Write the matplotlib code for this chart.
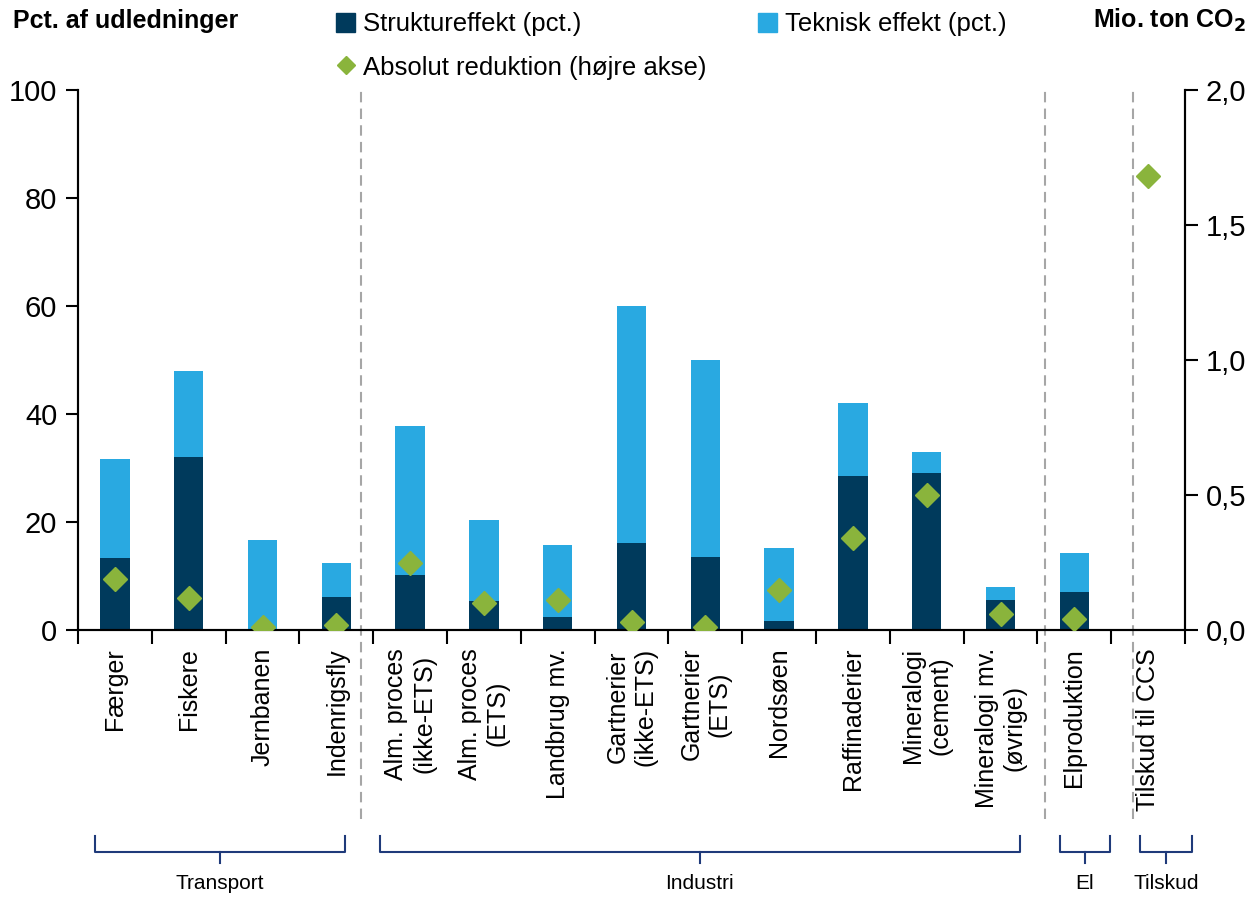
import numpy as np
import matplotlib.pyplot as plt
from matplotlib.lines import Line2D
from matplotlib.patches import Patch
from matplotlib.ticker import FuncFormatter

plt.rcParams['font.family'] = ['Liberation Sans', 'DejaVu Sans']

# Data
categories = ["Færger", "Fiskere", "Jernbanen", "Indenrigsfly",
              "Alm. proces\n(ikke-ETS)", "Alm. proces\n(ETS)", "Landbrug mv.",
              "Gartnerier\n(ikke-ETS)", "Gartnerier\n(ETS)", "Nordsøen",
              "Raffinaderier", "Mineralogi\n(cement)", "Mineralogi mv.\n(øvrige)",
              "Elproduktion", "Tilskud til CCS"]
struktur = [13.3, 32.0, 0.0, 6.1, 10.2, 5.4, 2.5, 16.1, 13.5, 1.6, 28.5, 29.0, 5.5, 7.0, 0.0]
teknisk = [18.4, 16.0, 16.6, 6.3, 27.6, 15.0, 13.2, 43.9, 36.5, 13.6, 13.5, 4.0, 2.5, 7.3, 0.0]
absolut = [0.19, 0.12, 0.01, 0.02, 0.25, 0.10, 0.11, 0.03, 0.01, 0.15, 0.34, 0.50, 0.06, 0.04, 1.68]

groups = ["Transport", "Industri", "El", "Tilskud"]
group_span = [(-0.27, 3.12), (3.59, 12.26), (12.8, 13.48), (13.89, 14.59)]
separators = [3.33, 12.6, 13.8]

navy = "#003A5C"
light = "#29A9E1"
green = "#8AB43C"

fig = plt.figure(figsize=(12.52, 8.99), dpi=100)
ax = fig.add_axes([0.0623, 0.2992, 0.8842, 0.6007])
ax2 = ax.twinx()

x = np.arange(len(categories))
ax.bar(x, struktur, width=0.4, color=navy, zorder=2)
ax.bar(x, teknisk, width=0.4, bottom=struktur, color=light, zorder=2)
ax2.plot(x, absolut, linestyle="none", marker="D", markersize=12, color=green, zorder=3)

ax.set_xlim(-0.5, len(categories) - 0.5)
ax.set_ylim(0, 100)
ax2.set_ylim(0, 2.0)
ax.set_yticks(range(0, 101, 20))
ax2.set_yticks([0, 0.5, 1.0, 1.5, 2.0])
ax2.yaxis.set_major_formatter(FuncFormatter(lambda v, p: f"{v:.1f}".replace(".", ",")))

for a in (ax, ax2):
    a.spines["top"].set_visible(False)
    for s in a.spines.values():
        s.set_linewidth(1.5)
    a.tick_params(axis="y", labelsize=21, length=9, width=1.5, direction="out", pad=6)

ax.set_xticks(np.arange(-0.5, len(categories), 1.0))
ax.set_xticklabels([])
ax.tick_params(axis="x", length=10, width=1.5, direction="out")
for i, c in enumerate(categories):
    ax.text(i, -0.033, c, transform=ax.get_xaxis_transform(), rotation=90,
            ha="center", va="top", fontsize=18, multialignment="center")

trans = ax.get_xaxis_transform()
for s in separators:
    ax.plot([s, s], [-0.35, 1.0], transform=trans, clip_on=False,
            color="#A6A6A6", linestyle=(0, (5, 3)), linewidth=1.5)

# group brackets
for name, (x0, x1) in zip(groups, group_span):
    xm = (x0 + x1) / 2
    ax.plot([x0, x0, x1, x1], [-0.382, -0.411, -0.411, -0.382], transform=trans,
            clip_on=False, color="#1F3A7A", linewidth=1.5)
    ax.plot([xm, xm], [-0.411, -0.432], transform=trans, clip_on=False,
            color="#1F3A7A", linewidth=1.5)
    ax.text(xm, -0.452, name, transform=trans, ha="center", va="top", fontsize=15)

fig.text(0.01, 0.977, "Pct. af udledninger", fontsize=18, fontweight="bold", va="center")
fig.text(0.995, 0.977, "Mio. ton CO$_\\mathbf{2}$", fontsize=18, fontweight="bold",
         va="center", ha="right")

handles = [Patch(color=navy),
           Line2D([], [], linestyle="none", marker="D", markersize=9, color=green),
           Patch(color=light)]
labels = ["Struktureffekt (pct.)", "Absolut reduktion (højre akse)",
          "Teknisk effekt (pct.)"]
fig.legend(handles, labels, ncol=2, loc="upper left", bbox_to_anchor=(0.25, 1.012),
           frameon=False, fontsize=18.5, handlelength=0.75, handleheight=0.75,
           handletextpad=0.3, columnspacing=2.0, labelspacing=0.75)

fig.savefig("out.png", dpi=100)
